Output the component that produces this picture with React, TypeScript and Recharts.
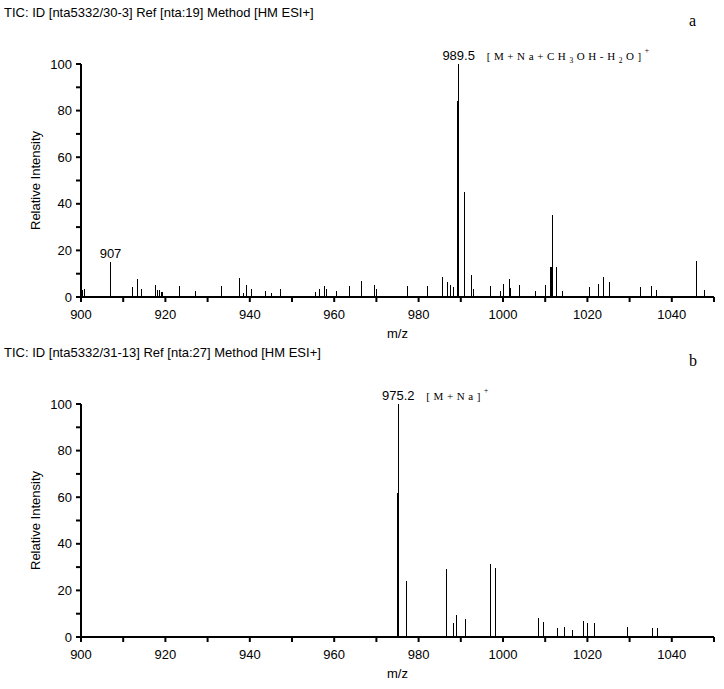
import React from 'react';
import { BarChart, Bar, XAxis, YAxis, LabelList, Label } from 'recharts';

// panel a: m/z and relative intensity of each peak
const mzA = [
  900.3, 900.9, 907.0, 912.2, 913.3, 914.3, 917.6, 918.2, 918.6, 919.1, 919.3, 923.3, 927.1, 933.3,
  937.5, 938.4, 939.3, 940.4, 943.8, 945.2, 947.3, 955.6, 956.6, 957.7, 958.2, 960.6, 963.7, 966.4,
  969.6, 970.0, 977.4, 982.1, 985.7, 986.8, 987.5, 988.3, 989.2, 989.35, 989.5, 990.8, 992.5, 993.0,
  997.1, 999.5, 1000.1, 1001.6, 1001.9, 1004.0, 1007.6, 1010.0, 1011.3, 1011.45, 1011.7, 1012.6,
  1014.0, 1020.6, 1022.6, 1023.8, 1025.3, 1032.5, 1035.3, 1036.5, 1045.8, 1047.8,
];
const intA = [
  3, 3.5, 15, 4.3, 7.9, 3.6, 5.3, 3.1, 3, 2.3, 2, 4.7, 2.6, 4.7,
  8.3, 1.9, 5.1, 3.3, 2.4, 1.9, 3.4, 2.2, 3.3, 4.7, 3.4, 2.6, 4.6, 6.9,
  5.1, 3.4, 4.7, 4.7, 8.4, 6.3, 5.3, 4.1, 84, 84, 100, 45, 9.3, 3.4,
  4.6, 2.5, 5.6, 7.7, 3.9, 5.1, 2.5, 5.1, 13, 13, 35, 13,
  2.5, 4.3, 5.6, 8.4, 6.3, 4.3, 4.7, 2.9, 15.5, 3,
];

// panel b
const mzB = [
  975.0, 975.15, 975.2, 977.1, 986.6, 988.2, 988.9, 991.1, 997.0, 998.2, 1008.5, 1009.7,
  1012.9, 1014.6, 1016.5, 1019.0, 1020.1, 1021.6, 1029.6, 1035.5, 1036.6,
];
const intB = [
  62, 62, 100, 24, 29, 6, 9.3, 7.6, 31.5, 29.5, 8.2, 6.4,
  3.9, 4.5, 3.1, 7, 5.9, 5.9, 4.5, 3.9, 3.9,
];

const labelsA = [
  { mz: 907.0, text: '907' },
  { mz: 989.5, text: '989.5' },
];
const labelsB = [{ mz: 975.2, text: '975.2' }];

type Seg = { t: string; sub?: boolean; sup?: boolean };
const ions: Record<string, Seg[]> = {
  '989.5': [
    { t: '[M+Na+CH' }, { t: '3', sub: true }, { t: 'OH-H' }, { t: '2', sub: true }, { t: 'O]' },
    { t: '+', sup: true },
  ],
  '975.2': [{ t: '[M+Na]' }, { t: '+', sup: true }],
};

const xTicks = [900, 910, 920, 930, 940, 950, 960, 970, 980, 990, 1000, 1010, 1020, 1030, 1040, 1050];
const yTicks = [0, 10, 20, 30, 40, 50, 60, 70, 80, 90, 100];

const SANS = "'Liberation Sans', Arial, sans-serif";
const SERIF = "'Liberation Serif', 'Times New Roman', serif";

const buildRows = (mz: number[], inten: number[], labels: { mz: number; text: string }[]) =>
  mz.map((m, i) => ({
    mz: m,
    intensity: inten[i],
    label: labels.find((l) => l.mz === m)?.text,
  }));

const XTick = (props: any) => {
  const { x, y, payload } = props;
  if (payload.value % 20 !== 0 || payload.value > 1040) return <g />;
  return (
    <text x={x} y={y} dy="0.71em" textAnchor="middle" fontFamily={SANS} fontSize={13} fill="#000">
      {payload.value}
    </text>
  );
};

const YTick = (props: any) => {
  const { x, y, payload } = props;
  if (payload.value % 20 !== 0) return <g />;
  return (
    <text x={x} y={y} dy="0.35em" textAnchor="end" fontFamily={SANS} fontSize={13} fill="#000">
      {payload.value}
    </text>
  );
};

const YTitle = (props: any) => {
  const vb = props.viewBox;
  const x = vb.x + 35;
  const y = vb.y + vb.height / 2;
  return (
    <text x={x} y={y} transform={`rotate(-90 ${x} ${y})`} textAnchor="middle" dy="0.35em" fontFamily={SANS} fontSize={13} fill="#000">
      Relative Intensity
    </text>
  );
};

const XTitle = (props: any) => {
  const vb = props.viewBox;
  return (
    <text x={vb.x + vb.width / 2} y={vb.y + 36} dy="0.35em" textAnchor="middle" fontFamily={SANS} fontSize={13} fill="#000">
      m/z
    </text>
  );
};

// one thin stick per peak
const Stick = (props: any) => {
  const { x, y, width, height } = props;
  const cx = x + width / 2;
  return <line x1={cx} x2={cx} y1={y} y2={y + height} stroke="#000" strokeWidth={1} shapeRendering="crispEdges" />;
};

const PeakLabel = (props: any) => {
  const { x, y, width, value } = props;
  if (!value) return null;
  const cx = x + width / 2;
  const ion = ions[value];
  return (
    <g>
      <text x={cx} y={y - 4} textAnchor="middle" fontFamily={SANS} fontSize={13} fill="#000">
        {value}
      </text>
      {ion && (
        <text x={cx + 28} y={y - 4} fontFamily={SERIF} fontSize={11} letterSpacing={3.6} fill="#000">
          {ion.map((s, i) => {
            const prev = ion[i - 1];
            let dy = 0;
            if (prev?.sub) dy -= 3;
            if (prev?.sup) dy += 7;
            if (s.sub) dy += 3;
            if (s.sup) dy -= 7;
            return (
              <tspan key={i} dy={dy} fontSize={s.sub || s.sup ? 7.5 : 11}>
                {s.t}
              </tspan>
            );
          })}
        </text>
      )}
    </g>
  );
};

type PanelProps = { rows: any[]; title: string; tag: string; top: number };

const Panel = ({ rows, title, tag, top }: PanelProps) => (
  <div style={{ position: 'absolute', left: 0, top, width: 724, height: 349 }}>
    <div style={{ position: 'absolute', left: 4, top: 5, fontFamily: SANS, fontSize: 13, color: '#000', whiteSpace: 'nowrap' }}>
      {title}
    </div>
    <div style={{ position: 'absolute', left: 689, top: 12, fontFamily: SERIF, fontSize: 16, color: '#000' }}>{tag}</div>
    <BarChart width={724} height={349} data={rows} margin={{ top: 64, right: 10, left: 0, bottom: 22 }}>
      <XAxis
        dataKey="mz"
        type="number"
        domain={[900, 1050]}
        ticks={xTicks}
        interval={0}
        allowDataOverflow
        height={30}
        tickSize={5}
        tickMargin={8}
        tick={<XTick />}
        axisLine={{ stroke: '#000', strokeWidth: 2 }}
        tickLine={{ stroke: '#000', strokeWidth: 2 }}
      >
        <Label content={XTitle} />
      </XAxis>
      <YAxis
        type="number"
        domain={[0, 100]}
        ticks={yTicks}
        interval={0}
        width={81}
        tickSize={5}
        tickMargin={4}
        tick={<YTick />}
        axisLine={{ stroke: '#000', strokeWidth: 2 }}
        tickLine={{ stroke: '#000', strokeWidth: 2 }}
      >
        <Label content={YTitle} />
      </YAxis>
      <Bar dataKey="intensity" fill="#000" barSize={1} shape={<Stick />} isAnimationActive={false}>
        <LabelList dataKey="label" content={PeakLabel} />
      </Bar>
    </BarChart>
  </div>
);

export default function App() {
  return (
    <div style={{ position: 'absolute', left: 0, top: 0, width: 724, height: 689, background: '#fff', overflow: 'hidden' }}>
      <Panel rows={buildRows(mzA, intA, labelsA)} title="TIC: ID [nta5332/30-3] Ref [nta:19] Method [HM ESI+]" tag="a" top={0} />
      <Panel rows={buildRows(mzB, intB, labelsB)} title="TIC: ID [nta5332/31-13] Ref [nta:27] Method [HM ESI+]" tag="b" top={340} />
    </div>
  );
}
